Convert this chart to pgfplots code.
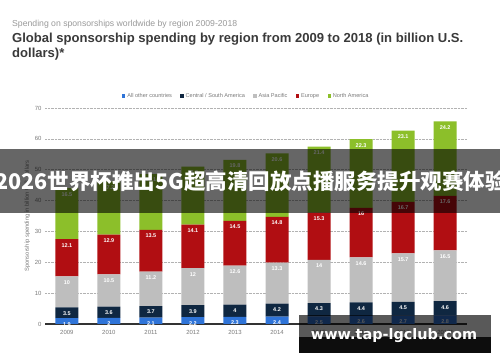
\documentclass[border=0pt]{standalone}
\usepackage{fontspec}
\setmainfont{Liberation Sans}
\newfontfamily\cjk{Noto Sans CJK SC}
\newfontfamily\wm{DejaVu Sans}
\usepackage{pgfplots}
\pgfplotsset{compat=1.18}
\definecolor{cBlue}{HTML}{2F74D8}
\definecolor{cNavy}{HTML}{0F2741}
\definecolor{cGray}{HTML}{BEBEBE}
\definecolor{cRed}{HTML}{B10E12}
\definecolor{cGreen}{HTML}{8CBF2A}
\definecolor{cTitle}{HTML}{3A3A3A}
\definecolor{cSub}{HTML}{9A9A9A}
\definecolor{cTick}{HTML}{7A7A7A}
\begin{document}
\begin{tikzpicture}
\useasboundingbox (0bp,0bp) rectangle (500bp,362bp);
\fill[white] (0bp,0bp) rectangle (500bp,362bp);
\node[anchor=west, inner sep=0, text=cSub, font=\fontsize{8.7}{9}\selectfont] at (12bp,337.5bp) {Spending on sponsorships worldwide by region 2009-2018};
\node[anchor=west, inner sep=0, text=cTitle, font=\fontsize{13.1}{14}\selectfont\bfseries] at (12bp,322.5bp) {Global sponsorship spending by region from 2009 to 2018 (in billion U.S.};
\node[anchor=west, inner sep=0, text=cTitle, font=\fontsize{13.1}{14}\selectfont\bfseries] at (12bp,307.5bp) {dollars)*};
\begin{axis}[
  at={(45bp,38bp)}, anchor=south west,
  scale only axis, width=422bp, height=216bp,
  xmin=-0.52, xmax=9.52, ymin=0, ymax=70,
  ybar stacked, bar width=23bp,
  xtick={0,1,2,3,4,5,6,7,8,9},
  xticklabels={2009,2010,2011,2012,2013,2014,2015,2016,2017,2018*},
  ytick={0,10,20,30,40,50,60,70},
  axis x line*=bottom, axis y line*=left,
  x axis line style={-, draw=black!80, line width=1.3bp},
  y axis line style={draw=none},
  tick style={draw=none},
  ymajorgrids, grid style={densely dotted, black!30, line width=0.6bp},
  /pgf/number format/assume math mode=true,
  ticklabel style={text=cTick, font=\fontsize{6}{7}\selectfont},
  xticklabel style={yshift=-3bp},
  ylabel={Sponsorship spending in billion U.S. dollars},
  ylabel style={text=cTick, font=\fontsize{5.8}{7}\selectfont, yshift=-2bp},
  legend columns=5,
  legend style={at={(0.477,1)}, anchor=south, yshift=7bp, draw=none, fill=none,
    font=\fontsize{5.6}{6}\selectfont, text=cTick, inner sep=0pt,
    /tikz/every even column/.append style={column sep=6.5bp}},
  legend image code/.code={\fill[#1] (0bp,-1.6bp) rectangle (3.2bp,1.6bp);},
  nodes near coords,
  point meta=explicit symbolic,
  visualization depends on={rawy \as \rawy},
  every node near coord/.append style={anchor=center, yshift={\rawy*1.54286bp-6bp}, text=white,
    font=\fontsize{5.5}{6}\selectfont\bfseries},
]
\addplot[fill=cBlue, draw=none] coordinates {(0,1.9)[1.9] (1,2)[2] (2,2.1)[2.1] (3,2.2)[2.2] (4,2.3)[2.3] (5,2.4)[2.4] (6,2.5)[2.5] (7,2.6)[2.6] (8,2.7)[2.7] (9,2.8)[2.8]};
\addlegendentry{All other countries}
\addplot[fill=cNavy, draw=none] coordinates {(0,3.5)[3.5] (1,3.6)[3.6] (2,3.7)[3.7] (3,3.9)[3.9] (4,4)[4] (5,4.2)[4.2] (6,4.3)[4.3] (7,4.4)[4.4] (8,4.5)[4.5] (9,4.6)[4.6]};
\addlegendentry{Central / South America}
\addplot[fill=cGray, draw=none] coordinates {(0,10)[10] (1,10.5)[10.5] (2,11.2)[11.2] (3,12)[12] (4,12.6)[12.6] (5,13.3)[13.3] (6,14)[14] (7,14.6)[14.6] (8,15.7)[15.7] (9,16.5)[16.5]};
\addlegendentry{Asia Pacific}
\addplot[fill=cRed, draw=none] coordinates {(0,12.1)[12.1] (1,12.9)[12.9] (2,13.5)[13.5] (3,14.1)[14.1] (4,14.5)[14.5] (5,14.8)[14.8] (6,15.3)[15.3] (7,16)[16] (8,16.7)[16.7] (9,17.6)[17.6]};
\addlegendentry{Europe}
\addplot[fill=cGreen, draw=none] coordinates {(0,16.5)[16.5] (1,17.2)[17.2] (2,18.1)[18.1] (3,18.8)[18.8] (4,19.8)[19.8] (5,20.6)[20.6] (6,21.4)[21.4] (7,22.3)[22.3] (8,23.1)[23.1] (9,24.2)[24.2]};
\addlegendentry{North America}
\end{axis}
% overlay banner
\fill[black, fill opacity=0.6] (0bp,149bp) rectangle (500bp,213bp);
\node[inner sep=0, text=white, font=\cjk\fontsize{21.6}{24}\selectfont\bfseries] at (251bp,181bp) {2026世界杯推出5G超高清回放点播服务提升观赛体验};
% watermark
\fill[black, fill opacity=0.65] (299bp,25bp) rectangle (491bp,47bp);
\fill[black, fill opacity=0.95] (299bp,9bp) rectangle (491bp,25bp);
\node[inner sep=0, text=white, font=\wm\fontsize{14.5}{16}\selectfont\bfseries] at (394bp,26bp) {www.tap-lgclub.com};
\end{tikzpicture}
\end{document}
